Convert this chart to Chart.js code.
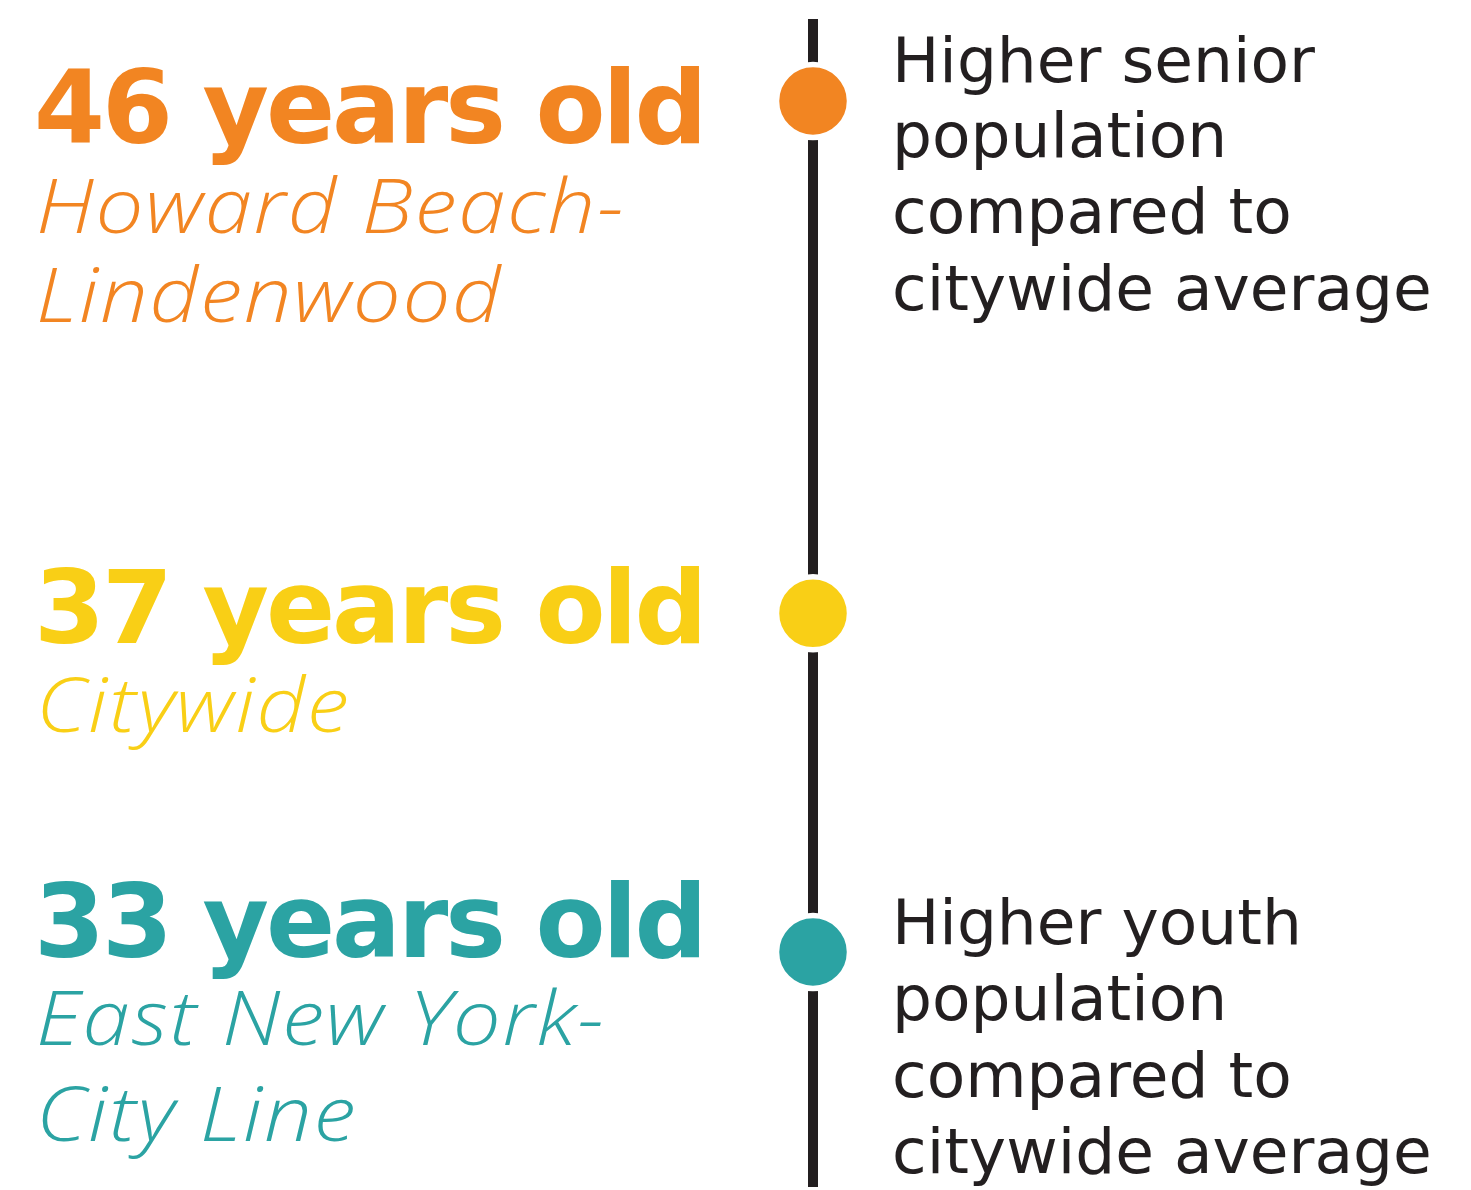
<!DOCTYPE html>
<html><head><meta charset="utf-8">
<script src="https://cdn.jsdelivr.net/npm/chart.js@4/dist/chart.umd.min.js"></script>
<style>html,body{margin:0;padding:0;background:#fff}canvas{display:block}</style>
</head><body>
<canvas id="c" width="1471" height="1190"></canvas>
<script>
// ---- data ----
const medianAges = [46, 37, 33];
const ageUnit = 'years old';
const areaNames = [['Howard Beach-', 'Lindenwood'], ['Citywide'], ['East New York-', 'City Line']];
const comparisonNotes = [
  ['Higher senior', 'population', 'compared to', 'citywide average'],
  [],
  ['Higher youth', 'population', 'compared to', 'citywide average']
];
const seriesColors = ['#F28522', '#F9CF16', '#2BA3A3'];

// ---- text layout (baselines in px) ----
const TEXT_LAYOUT = {
  leftX: 34,
  rightX: 892,
  headBase: [143, 643, 957],
  subBase: [[233, 322], [732], [1045, 1141]],
  noteBase: [[82, 157, 233, 310], [], [944, 1020, 1097, 1173]],
  subStretch: 1.12
};

// inverse-power value scale (compresses higher ages)
const EXP = 1.4;
class InvPowScale extends Chart.LinearScale {
  getPixelForValue(value) {
    const f = v => -Math.pow(v, -EXP);
    const t = (f(value) - f(this.min)) / (f(this.max) - f(this.min));
    return this.getPixelForDecimal(t);
  }
  getValueForPixel(pixel) {
    const t = this.getDecimalForPixel(pixel);
    const a = -Math.pow(this.min, -EXP), b = -Math.pow(this.max, -EXP);
    return Math.pow(-(a + t * (b - a)), -1 / EXP);
  }
}
InvPowScale.id = 'invpow';
InvPowScale.defaults = Chart.LinearScale.defaults;
Chart.register(InvPowScale);

const timelinePlugin = {
  id: 'timeline',
  beforeDatasetsDraw(chart) {
    const ctx = chart.ctx;
    const x = chart.scales.x.getPixelForValue(0);
    ctx.save();
    ctx.strokeStyle = '#231f20';
    ctx.lineWidth = 10;
    ctx.beginPath();
    ctx.moveTo(x, 19);
    ctx.lineTo(x, chart.height - 3);
    ctx.stroke();
    ctx.restore();
  },
  afterDatasetsDraw(chart) {
    const ctx = chart.ctx;
    const L = TEXT_LAYOUT;
    ctx.save();
    ctx.textAlign = 'left';
    ctx.textBaseline = 'alphabetic';
    medianAges.forEach((age, i) => {
      ctx.fillStyle = seriesColors[i];
      ctx.font = 'bold 102px "DejaVu Sans"';
      ctx.letterSpacing = '-3px';
      ctx.fillText(age + ' ' + ageUnit, L.leftX, L.headBase[i]);
      ctx.font = 'italic 300 76px "Open Sans"';
      ctx.letterSpacing = '1.5px';
      areaNames[i].forEach((line, j) => {
        ctx.save();
        ctx.translate(L.leftX + 2, L.subBase[i][j]);
        ctx.scale(L.subStretch, 1);
        ctx.fillText(line, 0, 0);
        ctx.restore();
      });
      ctx.fillStyle = '#231f20';
      ctx.font = '63px "DejaVu Sans"';
      ctx.letterSpacing = '0px';
      comparisonNotes[i].forEach((line, j) => ctx.fillText(line, L.rightX, L.noteBase[i][j]));
    });
    ctx.restore();
  }
};

new Chart(document.getElementById('c'), {
  type: 'scatter',
  data: {
    datasets: [{
      data: medianAges.map(a => ({ x: 0, y: a })),
      pointRadius: 36.5,
      pointHoverRadius: 36.5,
      pointBackgroundColor: seriesColors,
      pointBorderColor: '#ffffff',
      pointBorderWidth: 5.5,
      pointHoverBorderWidth: 5.5,
      clip: false
    }]
  },
  options: {
    responsive: false,
    animation: false,
    devicePixelRatio: 1,
    events: [],
    layout: { autoPadding: false, padding: { left: 155, right: 0, top: 101, bottom: 238 } },
    plugins: { legend: { display: false }, tooltip: { enabled: false } },
    scales: {
      x: { type: 'linear', min: -1, max: 1, display: false },
      y: { type: 'invpow', min: 33, max: 46, display: false }
    }
  },
  plugins: [timelinePlugin]
});
</script>
</body></html>
